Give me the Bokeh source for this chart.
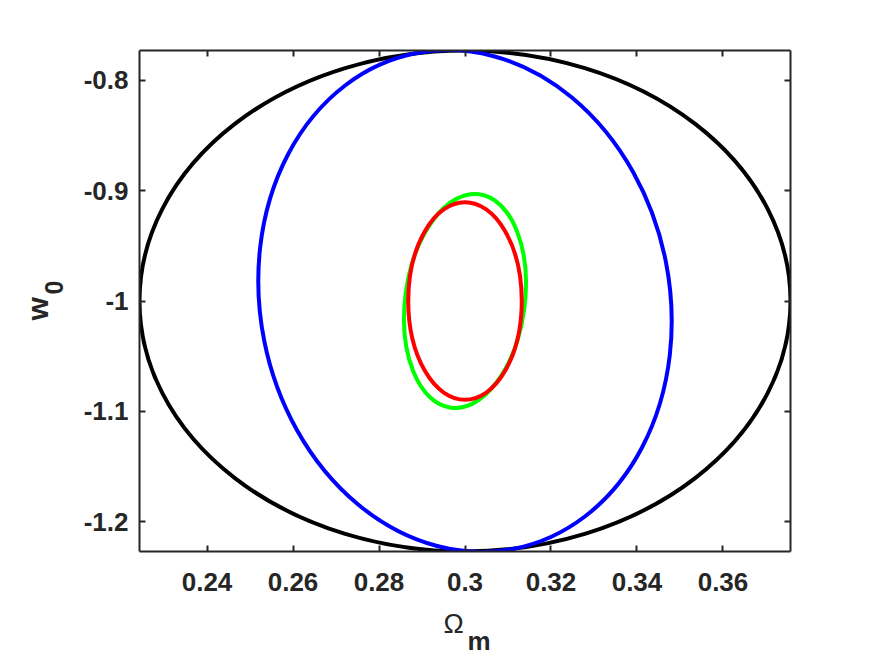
from bokeh.plotting import figure
from bokeh.models import LinearAxis, FixedTicker, Range1d, Title
from bokeh.embed import file_html
from bokeh.resources import INLINE

# ---- data -------------------------------------------------------------
# confidence ellipses: centre (Omega_m, w0), width (Omega_m units), height (w0 units), rotation (deg)
ell_colors = ["#000000", "#0000ff", "#00ff00", "#ff0000"]
ell_cx = [0.3, 0.3, 0.3, 0.3]
ell_cy = [-1.0, -1.0, -1.0, -1.0]
ell_width = [0.1514, 0.0952, 0.0278, 0.0264]
ell_height = [0.4538, 0.4577, 0.1950, 0.1790]
ell_angle = [0.0, 11.3, -7.6, 0.0]

x_ticks = [0.24, 0.26, 0.28, 0.30, 0.32, 0.34, 0.36]
x_tick_labels = ["0.24", "0.26", "0.28", "0.3", "0.32", "0.34", "0.36"]
y_ticks = [-1.2, -1.1, -1.0, -0.9, -0.8]
y_tick_labels = ["-1.2", "-1.1", "-1", "-0.9", "-0.8"]
x_limits = [0.2243, 0.3757]
y_limits = [-1.2269, -0.7731]

x_label_main, x_label_sub = "Ω", "m"
y_label_main, y_label_sub = "w", "0"

# ---- figure -----------------------------------------------------------
AX = "#262626"
FONT = "Liberation Sans"

p = figure(width=875, height=656, output_backend="svg", toolbar_location=None,
           x_range=Range1d(*x_limits), y_range=Range1d(*y_limits),
           x_axis_location=None, y_axis_location=None,
           min_border_left=139, min_border_right=85, min_border_top=50, min_border_bottom=105)
p.grid.visible = False
p.outline_line_color = None
p.background_fill_color = "white"
p.border_fill_color = "white"

xt = FixedTicker(ticks=x_ticks, minor_ticks=[])
yt = FixedTicker(ticks=y_ticks, minor_ticks=[])


def style(ax, show):
    ax.axis_line_color = AX
    ax.axis_line_width = 2
    ax.major_tick_line_color = AX
    ax.major_tick_line_width = 2
    ax.major_tick_in = 6
    ax.major_tick_out = 0
    ax.minor_tick_line_color = None
    ax.major_label_text_font = FONT
    ax.major_label_text_font_style = "bold"
    if show:
        ax.major_label_text_color = AX
        ax.major_label_text_font_size = "26px"
    else:
        ax.major_label_text_color = None
        ax.major_label_standoff = 0


def spacer(size, at):
    # white (invisible) axis used only to reserve space in a side panel
    return LinearAxis(ticker=FixedTicker(ticks=[at], minor_ticks=[]), axis_line_color=None,
                      major_tick_line_color="white", major_tick_line_width=1,
                      minor_tick_line_color=None, major_label_overrides={at: ""},
                      major_label_text_color=None, major_label_text_font_size="1px",
                      major_tick_in=0, major_tick_out=size,
                      minor_tick_in=0, minor_tick_out=0, major_label_standoff=0)


xb = LinearAxis(ticker=xt, major_label_overrides={t: l for t, l in zip(x_ticks, x_tick_labels)})
style(xb, True)
xb.major_label_standoff = 21
p.add_layout(xb, "below")
p.add_layout(spacer(22, x_limits[0] + 0.001), "below")

yl = LinearAxis(ticker=yt, major_label_overrides={t: l for t, l in zip(y_ticks, y_tick_labels)})
style(yl, True)
yl.major_label_standoff = 11
p.add_layout(yl, "left")
p.add_layout(spacer(10, y_limits[0] + 0.003), "left")

xa = LinearAxis(ticker=xt)
style(xa, False)
p.add_layout(xa, "above")
yr = LinearAxis(ticker=yt)
style(yr, False)
p.add_layout(yr, "right")

for c, x, y, w, h, a in zip(ell_colors, ell_cx, ell_cy, ell_width, ell_height, ell_angle):
    p.ellipse(x=[x], y=[y], width=[w], height=[h], angle=[a], angle_units="deg",
              fill_color=None, line_color=c, line_width=4)

# axis labels with subscripts, built from stacked titles in the side panels
p.add_layout(Title(text=x_label_main, align="left", offset=304, vertical_align="bottom", standoff=-18,
                   text_font=FONT, text_font_size="27px", text_font_style="normal",
                   text_color=AX), "below")
p.add_layout(Title(text=x_label_sub, align="left", offset=328, vertical_align="top", standoff=-8,
                   text_font=FONT, text_font_size="26px", text_font_style="bold",
                   text_color=AX), "below")
p.add_layout(Title(text=y_label_sub, align="left", offset=257, vertical_align="top", standoff=11,
                   text_font=FONT, text_font_size="25px", text_font_style="bold",
                   text_color=AX), "left")
p.add_layout(Title(text=y_label_main, align="left", offset=231, vertical_align="bottom", standoff=-28,
                   text_font=FONT, text_font_size="30px", text_font_style="bold",
                   text_color=AX), "left")

open("out.html", "w").write(file_html(p, INLINE))
